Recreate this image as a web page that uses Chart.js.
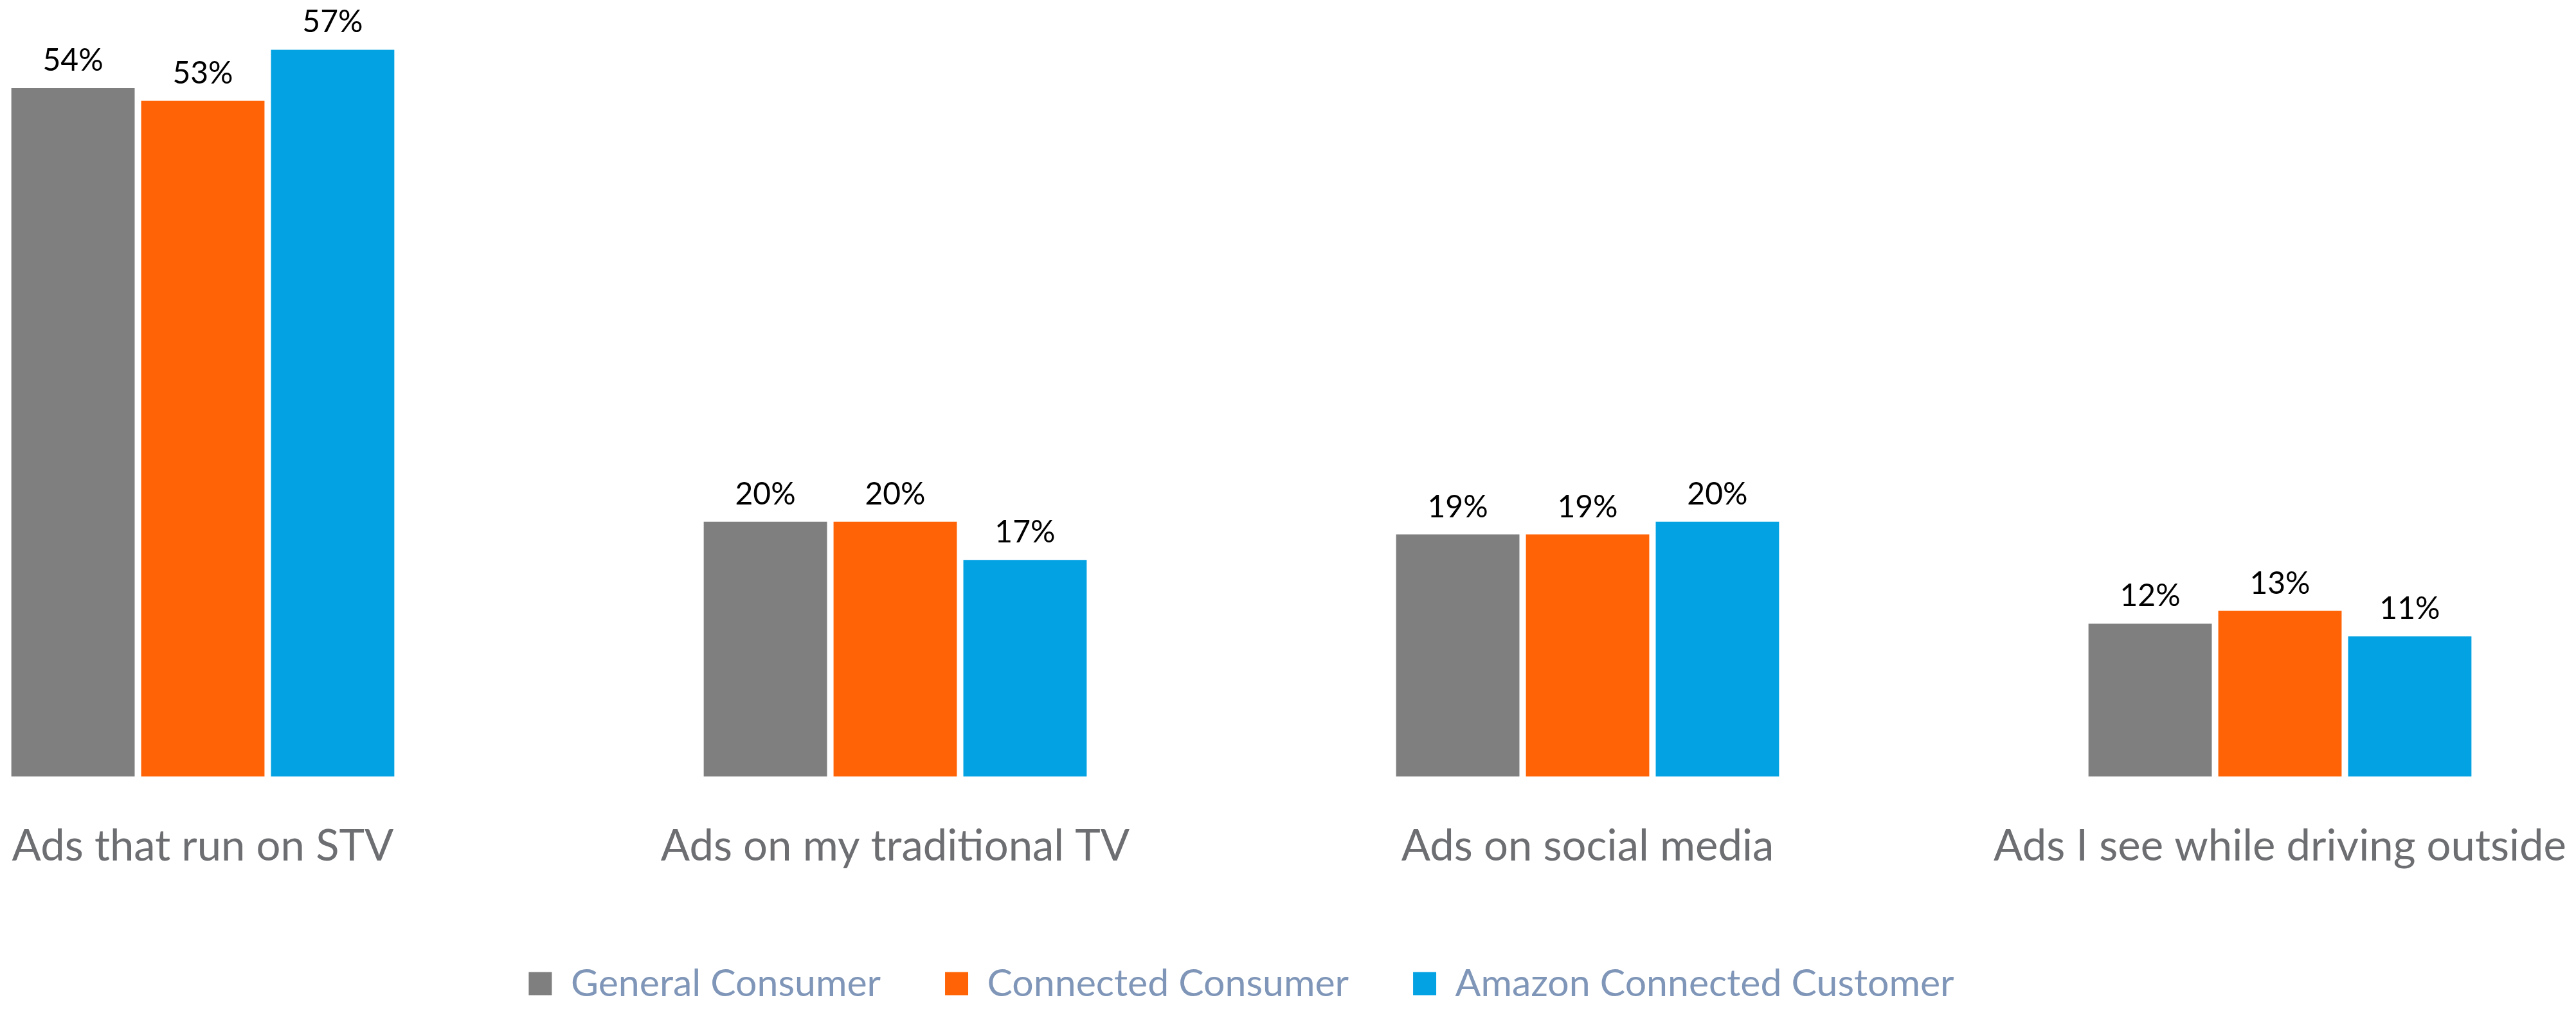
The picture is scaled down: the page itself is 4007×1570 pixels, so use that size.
<!DOCTYPE html>
<html>
<head>
<meta charset="utf-8">
<title>Ad formats by consumer group</title>
<script src="https://cdn.jsdelivr.net/npm/chart.js@4/dist/chart.umd.min.js"></script>
<style>
  html, body { margin: 0; padding: 0; background: #ffffff; overflow: hidden; }
  body { width: 4007px; height: 1570px; position: relative; }
  #wrap { position: absolute; left: -223px; top: 0; width: 4308px; height: 1570px; }
</style>
</head>
<body>
<div id="wrap"><canvas id="chart"></canvas></div>
<script>
// Categories shown along the x axis
const categories = [
  "Ads that run on STV",
  "Ads on my traditional TV",
  "Ads on social media",
  "Ads I see while driving outside"
];

// Series names and values (percent of respondents)
const seriesNames = ["General Consumer", "Connected Consumer", "Amazon Connected Customer"];
const generalConsumer = [54, 20, 19, 12];
const connectedConsumer = [53, 20, 19, 13];
const amazonConnected = [57, 17, 20, 11];

const seriesColors = ["#7F7F7F", "#FF6305", "#03A2E2"];

// Percentage labels above every bar
const valueLabels = {
  id: "valueLabels",
  afterDatasetsDraw(chart) {
    const ctx = chart.ctx;
    ctx.save();
    ctx.font = "48px Lato";
    ctx.fillStyle = "#000000";
    ctx.textAlign = "center";
    ctx.textBaseline = "alphabetic";
    chart.data.datasets.forEach((ds, i) => {
      const meta = chart.getDatasetMeta(i);
      meta.data.forEach((bar, j) => {
        ctx.fillText(ds.data[j] + "%", bar.x, bar.y - 27);
      });
    });
    ctx.restore();
  }
};

const seriesData = [generalConsumer, connectedConsumer, amazonConnected];

new Chart(document.getElementById("chart"), {
  type: "bar",
  data: {
    labels: categories,
    datasets: seriesNames.map((name, i) => ({
      label: name,
      data: seriesData[i],
      backgroundColor: seriesColors[i],
      borderWidth: 0,
      categoryPercentage: 0.5625,
      barPercentage: 0.95
    }))
  },
  options: {
    responsive: true,
    maintainAspectRatio: false,
    animation: false,
    devicePixelRatio: 1,
    layout: { padding: { top: 0, bottom: 0, left: 0, right: 0 } },
    plugins: {
      legend: {
        position: "bottom",
        labels: {
          font: { family: "Lato", size: 59 },
          color: "#7F96B8",
          boxWidth: 36,
          boxHeight: 36,
          padding: 100
        }
      },
      tooltip: { enabled: false }
    },
    scales: {
      x: {
        grid: { display: false, drawTicks: true, tickLength: 26 },
        border: { display: false },
        ticks: {
          font: { family: "Lato", size: 67 },
          color: "#6D6E71",
          padding: 43,
          maxRotation: 0,
          autoSkip: false
        }
      },
      y: {
        display: false,
        min: 0,
        max: 60.9
      }
    }
  },
  plugins: [valueLabels]
});
</script>
</body>
</html>
